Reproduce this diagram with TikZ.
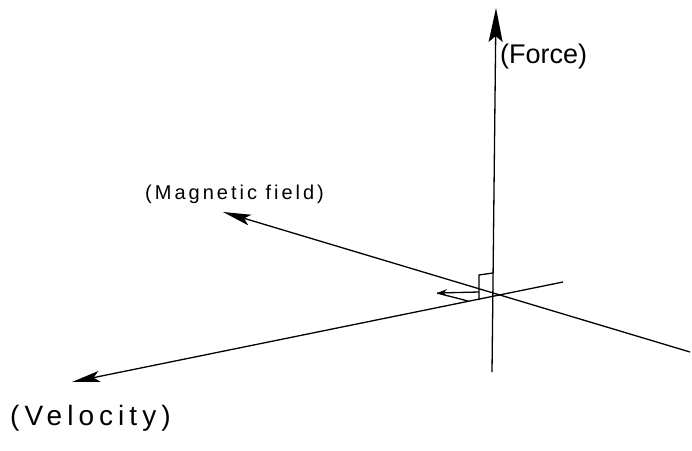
\documentclass[tikz,border=0pt]{standalone}
\usepackage{fontspec}
\setmainfont{Liberation Sans}
\usetikzlibrary{arrows.meta}
\begin{document}
\begin{tikzpicture}[x=1pt,y=-1pt,
  axis/.style={line width=1.3pt,-{Stealth[length=28pt,width=11pt,inset=6pt]}},
  plain/.style={line width=1.3pt},
  lbl/.style={inner sep=0pt,anchor=west}]
\useasboundingbox (0,0) rectangle (692,450);
\coordinate (O) at (493,297);
\coordinate (Ftip) at (496,8);
\coordinate (Fend) at (492,372);
\coordinate (Btip) at (223,212);
\coordinate (Bend) at (690,352);
\coordinate (Vtip) at (72,382);
\coordinate (Vend) at (563,282);
\draw[axis,-{Stealth[length=34pt,width=14pt,inset=6pt]}] (Fend) -- (Ftip);
\draw[axis] (Bend) -- (Btip);
\draw[axis] (Vend) -- (Vtip);
% right-angle mark
\coordinate (R1) at (479,300);
\coordinate (R2) at (479,275);
\coordinate (R3) at (493,273);
\draw[plain] (R1) -- (R2) -- (R3);
% small wedge mark
\coordinate (W0) at (437,293);
\coordinate (W1) at (479,292);
\coordinate (W2) at (468,301);
\draw[line width=1.3pt,-{Stealth[length=10pt,width=7pt]}] (W1) -- (W0);
\draw[line width=1.3pt] (W0) -- (W2);
\node[lbl,font=\fontsize{27}{27}\selectfont] (F) at (500,57) {(Force)};
\node[lbl,font=\fontsize{20}{20}\selectfont\addfontfeatures{LetterSpace=15}] (B) at (145,194) {(Magnetic field)};
\node[lbl,font=\fontsize{28}{28}\selectfont\addfontfeatures{LetterSpace=18}] (V) at (10,418) {(Velocity)};
\end{tikzpicture}
\end{document}
